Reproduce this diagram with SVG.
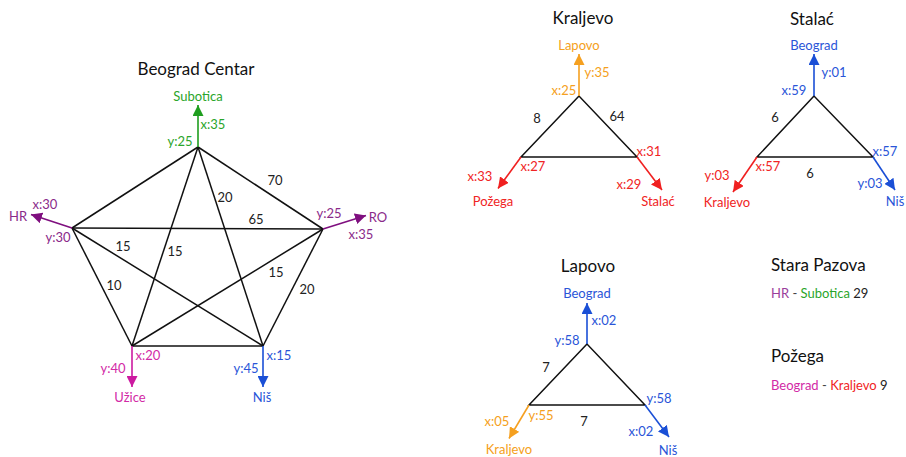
<svg xmlns="http://www.w3.org/2000/svg" width="906" height="457" viewBox="0 0 906 457">
<style>
text{font-family:Lato,"Liberation Sans",sans-serif;font-size:13px;text-anchor:middle}
.title{font-size:17px;fill:#111}
.lbl{fill:#222}
.l{text-anchor:start}
.e{stroke:#111;stroke-width:1.5;fill:none}
.g{fill:#2aa52a}.gs{stroke:#1f9e1f;stroke-width:1.6}
.p{fill:#8a2a8a}.ps{stroke:#7f0f7f;stroke-width:1.6}
.m{fill:#d22aa6}.ms{stroke:#cc1aa0;stroke-width:1.6}
.b{fill:#2a55d8}.bs{stroke:#1a4fd6;stroke-width:1.6}
.o{fill:#f5a020}.os{stroke:#f5a020;stroke-width:1.6}
.r{fill:#f02424}.rs{stroke:#f02020;stroke-width:1.6}
</style>
<defs>
<marker id="aG" markerUnits="userSpaceOnUse" markerWidth="12" markerHeight="11" refX="11" refY="5.5" orient="auto"><path d="M0,0 L11,5.5 L0,11 z" fill="#1f9e1f"/></marker>
<marker id="aP" markerUnits="userSpaceOnUse" markerWidth="12" markerHeight="11" refX="11" refY="5.5" orient="auto"><path d="M0,0 L11,5.5 L0,11 z" fill="#7f0f7f"/></marker>
<marker id="aM" markerUnits="userSpaceOnUse" markerWidth="12" markerHeight="11" refX="11" refY="5.5" orient="auto"><path d="M0,0 L11,5.5 L0,11 z" fill="#cc1aa0"/></marker>
<marker id="aB" markerUnits="userSpaceOnUse" markerWidth="12" markerHeight="11" refX="11" refY="5.5" orient="auto"><path d="M0,0 L11,5.5 L0,11 z" fill="#1a4fd6"/></marker>
<marker id="aO" markerUnits="userSpaceOnUse" markerWidth="12" markerHeight="11" refX="11" refY="5.5" orient="auto"><path d="M0,0 L11,5.5 L0,11 z" fill="#f5a020"/></marker>
<marker id="aR" markerUnits="userSpaceOnUse" markerWidth="12" markerHeight="11" refX="11" refY="5.5" orient="auto"><path d="M0,0 L11,5.5 L0,11 z" fill="#f02020"/></marker>
</defs>

<!-- Beograd Centar -->
<g id="beograd-centar">
<text class="title" x="196" y="75">Beograd Centar</text>
<g id="bc-edges" class="e">
<line x1="198" y1="147" x2="72" y2="228"/>
<line x1="198" y1="147" x2="323" y2="229"/>
<line x1="72" y1="228" x2="132" y2="346"/>
<line x1="323" y1="229" x2="263" y2="346"/>
<line x1="132" y1="346" x2="263" y2="346"/>
<line x1="198" y1="147" x2="132" y2="346"/>
<line x1="198" y1="147" x2="263" y2="346"/>
<line x1="72" y1="228" x2="323" y2="229"/>
<line x1="72" y1="228" x2="263" y2="346"/>
<line x1="323" y1="229" x2="132" y2="346"/>
</g>
<g id="bc-weights" class="lbl">
<text x="275" y="184.5">70</text>
<text x="225" y="201.5">20</text>
<text x="256" y="224">65</text>
<text x="123" y="250.5">15</text>
<text x="175" y="256">15</text>
<text x="114" y="289.5">10</text>
<text x="276" y="277">15</text>
<text x="307" y="294">20</text>
</g>
<g id="bc-subotica">
<line class="gs" x1="198" y1="147" x2="198" y2="105" marker-end="url(#aG)"/>
<text class="g" x="198" y="101">Subotica</text>
<text class="g" x="213" y="128.5">x:35</text>
<text class="g" x="180" y="146">y:25</text>
</g>
<g id="bc-hr">
<line class="ps" x1="72" y1="228" x2="31" y2="214.5" marker-end="url(#aP)"/>
<text class="p" x="18" y="221">HR</text>
<text class="p" x="45" y="208.5">x:30</text>
<text class="p" x="58" y="242">y:30</text>
</g>
<g id="bc-ro">
<line class="ps" x1="323" y1="229" x2="366" y2="215.5" marker-end="url(#aP)"/>
<text class="p" x="378" y="222">RO</text>
<text class="p" x="329" y="217.5">y:25</text>
<text class="p" x="361" y="238.5">x:35</text>
</g>
<g id="bc-uzice">
<line class="ms" x1="132" y1="346" x2="132" y2="387" marker-end="url(#aM)"/>
<text class="m" x="130" y="402">Užice</text>
<text class="m" x="148" y="360">x:20</text>
<text class="m" x="113" y="372.5">y:40</text>
</g>
<g id="bc-nis">
<line class="bs" x1="263" y1="346" x2="263" y2="387" marker-end="url(#aB)"/>
<text class="b" x="262" y="402">Niš</text>
<text class="b" x="279" y="360">x:15</text>
<text class="b" x="246" y="373">y:45</text>
</g>
</g>

<!-- Kraljevo -->
<g id="kraljevo">
<text class="title" x="583" y="24">Kraljevo</text>
<path class="e" d="M579,96 L521,157 L637,157 Z"/>
<text class="lbl" x="537" y="123">8</text>
<text class="lbl" x="617" y="121">64</text>
<g id="kr-lapovo">
<line class="os" x1="579" y1="96" x2="579" y2="54" marker-end="url(#aO)"/>
<text class="o" x="579" y="50">Lapovo</text>
<text class="o" x="597" y="77">y:35</text>
<text class="o" x="564" y="94.5">x:25</text>
</g>
<g id="kr-pozega">
<line class="rs" x1="521" y1="157" x2="498" y2="188.5" marker-end="url(#aR)"/>
<text class="r" x="493" y="206">Požega</text>
<text class="r" x="480" y="181">x:33</text>
<text class="r" x="533" y="171">x:27</text>
</g>
<g id="kr-stalac">
<line class="rs" x1="637" y1="157" x2="662" y2="190" marker-end="url(#aR)"/>
<text class="r" x="658" y="206">Stalać</text>
<text class="r" x="649" y="156">x:31</text>
<text class="r" x="629" y="188.5">x:29</text>
</g>
</g>

<!-- Stalać -->
<g id="stalac">
<text class="title" x="812" y="25">Stalać</text>
<path class="e" d="M814,96 L757,157 L873,157 Z"/>
<text class="lbl" x="775" y="122">6</text>
<text class="lbl" x="810" y="178">6</text>
<g id="st-beograd">
<line class="bs" x1="814" y1="96" x2="814" y2="54" marker-end="url(#aB)"/>
<text class="b" x="814" y="50">Beograd</text>
<text class="b" x="834" y="77">y:01</text>
<text class="b" x="794" y="94.5">x:59</text>
</g>
<g id="st-kraljevo">
<line class="rs" x1="757" y1="157" x2="733" y2="192" marker-end="url(#aR)"/>
<text class="r" x="727" y="207">Kraljevo</text>
<text class="r" x="717" y="179.5">y:03</text>
<text class="r" x="768" y="171">x:57</text>
</g>
<g id="st-nis">
<line class="bs" x1="873" y1="157" x2="895" y2="190" marker-end="url(#aB)"/>
<text class="b" x="895" y="206">Niš</text>
<text class="b" x="885" y="156">x:57</text>
<text class="b" x="870" y="188">y:03</text>
</g>
</g>

<!-- Lapovo -->
<g id="lapovo">
<text class="title" x="588" y="272">Lapovo</text>
<path class="e" d="M587,344 L529,405 L645,405 Z"/>
<text class="lbl" x="546" y="372">7</text>
<text class="lbl" x="584" y="425.5">7</text>
<g id="lp-beograd">
<line class="bs" x1="587" y1="344" x2="587" y2="303" marker-end="url(#aB)"/>
<text class="b" x="587" y="298">Beograd</text>
<text class="b" x="604" y="325">x:02</text>
<text class="b" x="567" y="344.5">y:58</text>
</g>
<g id="lp-kraljevo">
<line class="os" x1="529" y1="405" x2="509" y2="438.5" marker-end="url(#aO)"/>
<text class="o" x="509" y="454">Kraljevo</text>
<text class="o" x="497" y="426">x:05</text>
<text class="o" x="541" y="419.5">y:55</text>
</g>
<g id="lp-nis">
<line class="bs" x1="645" y1="405" x2="669" y2="437" marker-end="url(#aB)"/>
<text class="b" x="668" y="454.5">Niš</text>
<text class="b" x="659" y="403">y:58</text>
<text class="b" x="641" y="436">x:02</text>
</g>
</g>

<!-- Stara Pazova -->
<g id="stara-pazova">
<text class="title l" x="771" y="271">Stara Pazova</text>
<text class="l" x="771" y="298"><tspan fill="#9b3d9b">HR</tspan><tspan fill="#444"> - </tspan><tspan fill="#2aa52a">Subotica</tspan><tspan fill="#222"> 29</tspan></text>
</g>

<!-- Požega -->
<g id="pozega">
<text class="title l" x="771" y="362">Požega</text>
<text class="l" x="771" y="389.5"><tspan fill="#d22aa6">Beograd</tspan><tspan fill="#444"> - </tspan><tspan fill="#f02424">Kraljevo</tspan><tspan fill="#222"> 9</tspan></text>
</g>
</svg>
